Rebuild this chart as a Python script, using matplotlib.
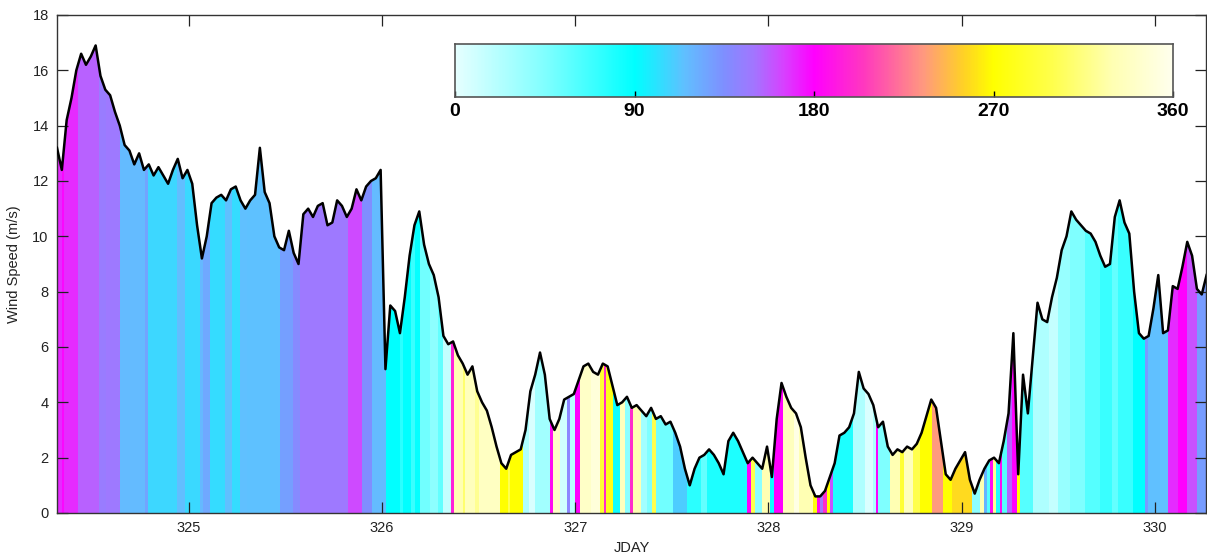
import numpy as np
import matplotlib
matplotlib.use("Agg")
import matplotlib.pyplot as plt
from matplotlib.colors import LinearSegmentedColormap
from matplotlib.patches import Polygon

# ---------------- data ----------------
start_day = 324.318
step_day = 0.025
speed = [
    13.2, 12.4, 14.2, 15.0, 16.0, 16.6, 16.2, 16.5, 16.9, 15.8,
    15.3, 15.1, 14.5, 14.0, 13.3, 13.1, 12.6, 13.0, 12.4, 12.6,
    12.2, 12.5, 12.2, 11.9, 12.4, 12.8, 12.1, 12.4, 11.9, 10.4,
    9.2, 10.0, 11.2, 11.4, 11.5, 11.3, 11.7, 11.8, 11.3, 11.0,
    11.3, 11.5, 13.2, 11.6, 11.2, 10.0, 9.6, 9.5, 10.2, 9.4,
    9.0, 10.8, 11.0, 10.7, 11.1, 11.2, 10.4, 10.5, 11.3, 11.1,
    10.7, 11.0, 11.7, 11.3, 11.8, 12.0, 12.1, 12.4, 5.2, 7.5,
    7.3, 6.5, 7.8, 9.3, 10.4, 10.9, 9.7, 9.0, 8.6, 7.8,
    6.4, 6.1, 6.2, 5.7, 5.4, 5.0, 5.3, 4.4, 4.0, 3.7,
    3.1, 2.4, 1.8, 1.6, 2.1, 2.2, 2.3, 3.0, 4.4, 5.0,
    5.8, 5.0, 3.4, 3.0, 3.4, 4.1, 4.2, 4.3, 4.8, 5.3,
    5.4, 5.1, 5.0, 5.4, 5.3, 4.6, 3.9, 4.0, 4.2, 3.8,
    3.9, 3.7, 3.5, 3.8, 3.4, 3.5, 3.2, 3.3, 2.9, 2.4,
    1.6, 1.0, 1.6, 2.0, 2.1, 2.3, 2.1, 1.8, 1.4, 2.6,
    2.9, 2.6, 2.2, 1.8, 2.0, 1.8, 1.6, 2.4, 1.3, 3.4,
    4.7, 4.2, 3.8, 3.6, 3.1, 2.0, 1.0, 0.6, 0.6, 0.8,
    1.3, 1.8, 2.8, 2.9, 3.1, 3.6, 5.1, 4.5, 4.3, 3.9,
    3.1, 3.3, 2.4, 2.1, 2.3, 2.2, 2.4, 2.3, 2.5, 2.9,
    3.5, 4.1, 3.8, 2.6, 1.4, 1.2, 1.6, 1.9, 2.2, 1.2,
    0.7, 1.2, 1.6, 1.9, 2.0, 1.8, 2.6, 3.6, 6.5, 1.4,
    5.0, 3.6, 5.6, 7.6, 7.0, 6.9, 7.8, 8.5, 9.5, 10.0,
    10.9, 10.6, 10.4, 10.2, 10.1, 9.8, 9.3, 8.9, 9.0, 10.7,
    11.3, 10.5, 10.1, 8.0, 6.5, 6.3, 6.4, 7.4, 8.6, 6.5,
    6.6, 8.2, 8.1, 8.9, 9.8, 9.3, 8.1, 7.9, 8.6,
]

# wind direction (deg) in blocks starting at these days
dir_starts = [
    324.318, 324.345, 324.352, 324.425, 324.534, 324.570, 324.643, 324.772, 324.788, 324.938,
    324.979, 325.057, 325.075, 325.109, 325.186, 325.223, 325.264, 325.300, 325.471, 325.538,
    325.575, 325.823, 325.895, 325.947, 326.020, 326.092, 326.110, 326.150, 326.170, 326.196,
    326.250, 326.290, 326.315, 326.356, 326.372, 326.420, 326.430, 326.480, 326.500, 326.610,
    326.650, 326.665, 326.729, 326.760, 326.790, 326.869, 326.884, 326.920, 326.957, 326.975,
    326.998, 327.024, 327.080, 327.127, 327.150, 327.160, 327.195, 327.231, 327.260, 327.285,
    327.300, 327.340, 327.371, 327.400, 327.420, 327.505, 327.578, 327.650, 327.680, 327.888,
    327.910, 327.930, 327.966, 328.007, 328.030, 328.074, 328.130, 328.160, 328.230, 328.250,
    328.266, 328.285, 328.302, 328.318, 328.333, 328.437, 328.500, 328.540, 328.555, 328.565,
    328.628, 328.680, 328.700, 328.750, 328.784, 328.846, 328.903, 328.949, 329.053, 329.094,
    329.115, 329.130, 329.146, 329.160, 329.180, 329.198, 329.210, 329.234, 329.262, 329.285,
    329.301, 329.369, 329.450, 329.500, 329.560, 329.640, 329.715, 329.780, 329.810, 329.886,
    329.948, 329.965, 330.067, 330.119, 330.166, 330.218,
]
dir_end = 330.27
dir_deg = [
    170, 178, 170, 156, 146, 148, 117, 126, 106, 116,
    105, 118, 125, 104, 115, 104, 115, 114, 128, 138,
    148, 162, 135, 117, 90, 75, 90, 70, 88, 50,
    40, 55, 15, 195, 330, 310, 335, 320, 338, 270,
    300, 270, 25, 5, 30, 185, 340, 10, 140, 20,
    180, 340, 350, 290, 200, 280, 85, 335, 40, 200,
    330, 30, 45, 300, 50, 110, 75, 55, 80, 180,
    300, 40, 330, 85, 180, 335, 355, 330, 275, 185,
    150, 200, 270, 160, 80, 25, 5, 25, 180, 45,
    330, 290, 335, 300, 270, 235, 270, 258, 40, 330,
    120, 60, 185, 320, 80, 185, 60, 155, 180, 270,
    60, 25, 15, 35, 45, 60, 70, 55, 70, 90,
    130, 115, 170, 180, 160, 130,
]

x_ticks = [325, 326, 327, 328, 329, 330]
y_ticks = [0, 2, 4, 6, 8, 10, 12, 14, 16, 18]
cbar_ticks = [0, 90, 180, 270, 360]

# ---------------- colormap ----------------
cmap_stops = [
    (0, (0.90, 1.00, 1.00)),
    (45, (0.50, 1.00, 1.00)),
    (90, (0.00, 1.00, 1.00)),
    (115, (0.38, 0.75, 1.00)),
    (135, (0.50, 0.56, 1.00)),
    (150, (0.64, 0.46, 1.00)),
    (165, (0.85, 0.25, 1.00)),
    (180, (1.00, 0.00, 1.00)),
    (205, (1.00, 0.22, 0.75)),
    (235, (1.00, 0.60, 0.50)),
    (255, (1.00, 0.82, 0.15)),
    (270, (1.00, 1.00, 0.00)),
    (300, (1.00, 1.00, 0.30)),
    (330, (1.00, 1.00, 0.70)),
    (360, (1.00, 1.00, 0.93)),
]
cmap = LinearSegmentedColormap.from_list(
    "wdir", [(a / 360.0, c) for a, c in cmap_stops], N=512)

plt.rcParams["font.family"] = ["Liberation Sans", "DejaVu Sans"]

W, H = 1207, 560
fig = plt.figure(figsize=(W / 100, H / 100), dpi=100)
ax = fig.add_axes([57 / W, 1 - 513 / H, (1206 - 57) / W, (513 - 15) / H])

jday = start_day + step_day * np.arange(len(speed))
spd = np.array(speed, dtype=float)

verts = np.column_stack([np.r_[jday[0], jday, jday[-1]], np.r_[0, spd, 0]])
poly = Polygon(verts, closed=True, facecolor="none", edgecolor="none")
ax.add_patch(poly)

edges = np.array(list(dir_starts) + [dir_end])
mesh = ax.pcolormesh(edges, [0, 18], np.array(dir_deg, dtype=float)[None, :],
                     cmap=cmap, vmin=0, vmax=360, shading="flat", zorder=1)
mesh.set_clip_path(poly)

ax.plot(jday, spd, color="black", lw=1.8, zorder=3)

ax.set_xlim(324.318, 330.265)
ax.set_ylim(0, 18)
ax.set_xticks(x_ticks)
ax.set_yticks(y_ticks)
ax.tick_params(direction="in", length=8, width=0.9, top=True, right=True,
               labelsize=10.5, colors="#222222", pad=6)
for s in ax.spines.values():
    s.set_color("#333333")
    s.set_linewidth(1.0)
ax.set_xlabel("JDAY", fontsize=10.5, color="#222222", labelpad=4)
ax.set_ylabel("Wind Speed (m/s)", fontsize=10.5, color="#222222", labelpad=8)

# colorbar inset
cax = fig.add_axes([455 / W, 1 - 97 / H, (1173 - 455) / W, (97 - 44) / H])
grad = np.linspace(0, 360, 721)[None, :]
cax.imshow(grad, aspect="auto", cmap=cmap, vmin=0, vmax=360,
           extent=[0, 360, 0, 1])
cax.set_xlim(0, 360)
cax.set_ylim(0, 1)
cax.set_yticks([])
cax.set_xticks(cbar_ticks)
cax.set_xticklabels([str(t) for t in cbar_ticks], fontsize=14, fontweight="bold")
cax.tick_params(axis="x", direction="in", length=4, width=1, pad=4, colors="black")
for s in cax.spines.values():
    s.set_color("#555555")
    s.set_linewidth(1.2)

fig.savefig("out.png", dpi=100)
